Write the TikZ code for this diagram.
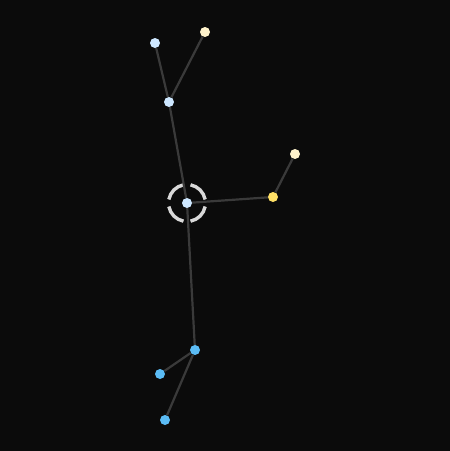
\documentclass[tikz,border=0pt]{standalone}
\usetikzlibrary{calc}
\begin{document}
\begin{tikzpicture}[x=1pt,y=-1pt,
  dot/.style={circle,inner sep=0pt,minimum size=10pt,draw=none},
  edge/.style={draw=edgecol,line width=2.2pt},
  ring/.style={draw=ringcol,line width=3.4pt}]
\definecolor{bg}{HTML}{0B0B0B}
\definecolor{edgecol}{HTML}{3A3A3A}
\definecolor{ringcol}{HTML}{D9D9D9}
\definecolor{lblue}{HTML}{CDE7FF}
\definecolor{cream}{HTML}{FFF3CC}
\definecolor{yel}{HTML}{FFE066}
\definecolor{blu}{HTML}{5BBCF5}
\fill[bg] (0,0) rectangle (450,451);
\useasboundingbox (0,0) rectangle (450,451);
\coordinate (ctr) at (187,203);
\foreach \a in {0,90,180,270}{
  \draw[ring] ($(ctr)+({\a+11}:18.5)$) arc[start angle=\a+11,end angle=\a+79,radius=18.5];
}
\node[dot,fill=lblue] (a) at (155,43) {};
\node[dot,fill=cream] (b) at (205,32) {};
\node[dot,fill=lblue] (k) at (169,102) {};
\node[dot,fill=cream] (d) at (295,154) {};
\node[dot,fill=yel] (e) at (273,197) {};
\node[dot,fill=blu] (f) at (195,350) {};
\node[dot,fill=blu] (g) at (160,374) {};
\node[dot,fill=blu] (h) at (165,420) {};
\node[dot,fill=lblue] (c) at (ctr) {};
\draw[edge] (k) -- (a);
\draw[edge] (k) -- (b);
\draw[edge] (c) -- (k);
\draw[edge] (c) -- (e);
\draw[edge] (e) -- (d);
\draw[edge] (c) -- (f);
\draw[edge] (f) -- (g);
\draw[edge] (f) -- (h);
\end{tikzpicture}
\end{document}
